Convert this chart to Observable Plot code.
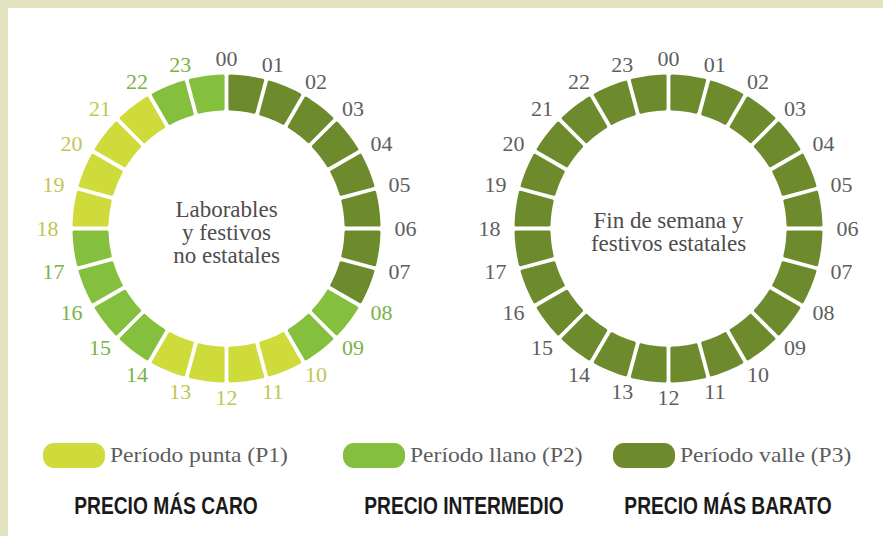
<!DOCTYPE html>
<html>
<head>
<meta charset="utf-8">
<script src="https://cdn.jsdelivr.net/npm/d3@7"></script>
<script src="https://cdn.jsdelivr.net/npm/@observablehq/plot@0.6"></script>
<style>
  html, body { margin: 0; padding: 0; background: #fff; }
  #page { position: relative; width: 883px; height: 536px; background: #fff; overflow: hidden; }
  #frameTop { position: absolute; left: 0; top: 0; width: 883px; height: 8px; background: #e3e3bf; }
  #frameLeft { position: absolute; left: 0; top: 0; width: 8px; height: 536px; background: #e3e3bf; }
  #chart { position: absolute; left: 8px; top: 8px; }
  .sw { position: absolute; height: 25px; border-radius: 11px; }
  .lt { position: absolute; font-family: "Liberation Serif", "DejaVu Serif", serif; font-size: 22px; color: #5c5c5c; white-space: nowrap; line-height: 1; transform-origin: 0 50%; transform: scaleX(1.07); }
  .pr { position: absolute; font-family: "Liberation Sans", Roboto, sans-serif; font-weight: bold; font-size: 24px; color: #1a1a1a; white-space: nowrap; line-height: 1; transform-origin: 50% 50%; transform: translateX(-50%) scaleX(0.8); }
</style>
</head>
<body>
<div id="page">
  <div id="frameTop"></div>
  <div id="frameLeft"></div>
  <div id="chart"></div>
</div>
<script>
// ---------- data ----------
const horas = ["00","01","02","03","04","05","06","07","08","09","10","11",
               "12","13","14","15","16","17","18","19","20","21","22","23"];
const dias = ["Laborables\ny festivos\nno estatales", "Fin de semana y\nfestivos estatales"];
const periodoLaborable = ["P3","P3","P3","P3","P3","P3","P3","P3","P2","P2","P1","P1",
                          "P1","P1","P2","P2","P2","P2","P1","P1","P1","P1","P2","P2"];
const periodoFinde = ["P3","P3","P3","P3","P3","P3","P3","P3","P3","P3","P3","P3",
                      "P3","P3","P3","P3","P3","P3","P3","P3","P3","P3","P3","P3"];
const periodos = ["P1","P2","P3"];
const periodoNombres = ["Período punta (P1)", "Período llano (P2)", "Período valle (P3)"];
const precios = ["PRECIO MÁS CARO", "PRECIO INTERMEDIO", "PRECIO MÁS BARATO"];
const colores = ["#cfdb3b", "#84c03d", "#6d8b2d"];
const coloresEtiqueta = ["#c2c651", "#79b246", "#5e5e5e"];

// ---------- geometry (unit = outer radius) ----------
const PX = 153;                 // px per unit
const rOut = (154 - 1.5) / PX;  // polygon radius before round stroke
const rIn = (118 + 1.5) / PX;
const inset = 3.4 / PX;
const deg = Math.PI / 180;

const segmentos = [];
const etiquetas = [];
[periodoLaborable, periodoFinde].forEach((serie, di) => {
  serie.forEach((p, h) => {
    const a = h * 15 * deg, b = (h + 1) * 15 * deg;
    const id = di + "-" + h;
    const pt = (r, ang, off) => ({
      id, dia: dias[di], periodo: p,
      x: r * Math.sin(ang) + off * Math.cos(ang),
      y: r * Math.cos(ang) - off * Math.sin(ang)
    });
    const pts = [];
    pts.push(pt(rIn, a, inset));
    pts.push(pt(rOut, a, inset));
    const n = 6;
    for (let i = 1; i < n; i++) {
      const a0 = a + inset / rOut, b0 = b - inset / rOut;
      pts.push(pt(rOut, a0 + (b0 - a0) * i / n, 0));
    }
    pts.push(pt(rOut, b, -inset));
    pts.push(pt(rIn, b, -inset));
    for (let i = n - 1; i > 0; i--) {
      const a0 = a + inset / rIn, b0 = b - inset / rIn;
      pts.push(pt(rIn, a0 + (b0 - a0) * i / n, 0));
    }
    pts.push(pt(rIn, a, inset));
    segmentos.push(...pts);
    etiquetas.push({
      dia: dias[di], dIdx: di, periodo: p, text: horas[h],
      x: 1.17 * Math.sin(a), y: 1.105 * Math.cos(a)
    });
  });
});

const half = 195 / PX;
const marks = [
  Plot.line(segmentos, {
    fx: "dia", x: "x", y: "y", z: "id",
    fill: "periodo", stroke: "periodo", strokeWidth: 3,
    strokeLinejoin: "round", strokeLinecap: "round", curve: "linear"
  })
];
periodos.forEach((p, i) => {
  marks.push(Plot.text(etiquetas.filter(d => d.dIdx === 0 && d.periodo === p), {
    fx: "dia", x: "x", y: "y", text: "text", fill: coloresEtiqueta[i],
    fontSize: 22, fontFamily: "Liberation Serif, serif", textAnchor: "middle"
  }));
});
marks.push(Plot.text(etiquetas.filter(d => d.dIdx === 1), {
  fx: "dia", x: "x", y: "y", text: "text", fill: "#5e5e5e",
  fontSize: 22, fontFamily: "Liberation Serif, serif", textAnchor: "middle"
}));
marks.push(Plot.text(dias, {
  fx: d => d, text: d => d, frameAnchor: "middle", dy: 4,
  fontSize: 23, lineHeight: 1.0, fill: "#4d4d4d",
  fontFamily: "Liberation Serif, serif", textAnchor: "middle"
}));

const chart = Plot.plot({
  width: 875, height: 420,
  marginLeft: 23, marginRight: 20, marginTop: 25, marginBottom: 5,
  style: { background: "transparent" },
  fx: { domain: dias, paddingInner: 52 / 442, paddingOuter: 0, axis: null, label: null },
  x: { domain: [-half, half], axis: null },
  y: { domain: [-half, half], axis: null },
  color: { domain: periodos, range: colores },
  marks
});
document.getElementById("chart").appendChild(chart);

// ---------- legend & captions ----------
const page = document.getElementById("page");
const swX = [43, 343, 613];
const centers = [166, 464, 728];
periodos.forEach((p, i) => {
  const sw = document.createElement("div");
  sw.className = "sw";
  sw.style.left = swX[i] + "px"; sw.style.top = "443px";
  sw.style.width = "62px"; sw.style.background = colores[i];
  page.appendChild(sw);
  const t = document.createElement("div");
  t.className = "lt";
  t.style.left = (swX[i] + 67) + "px"; t.style.top = "444px";
  t.textContent = periodoNombres[i];
  page.appendChild(t);
  const c = document.createElement("div");
  c.className = "pr";
  c.style.left = centers[i] + "px"; c.style.top = "494px";
  c.textContent = precios[i];
  page.appendChild(c);
});
</script>
</body>
</html>
